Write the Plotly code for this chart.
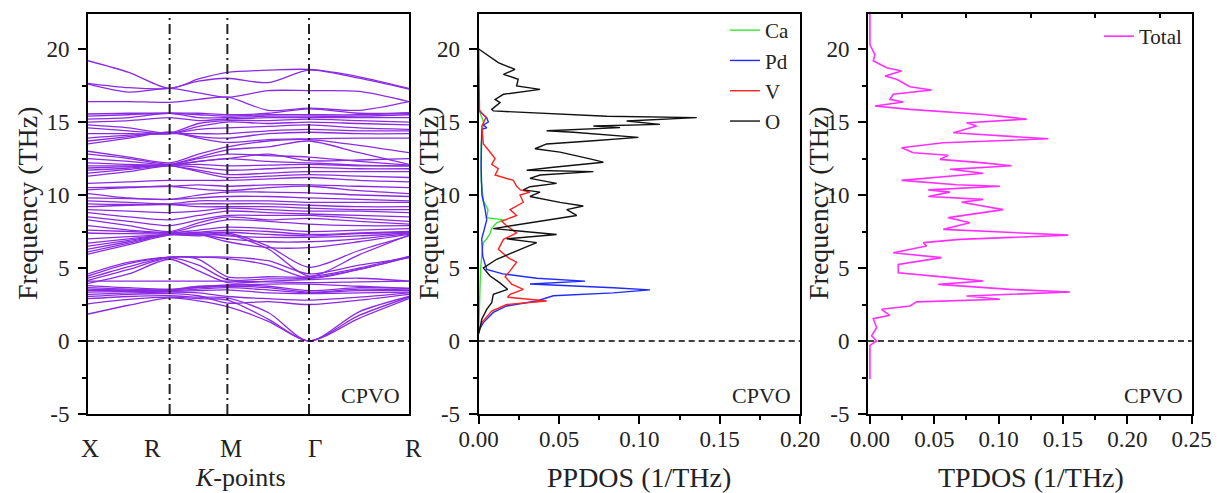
import plotly.graph_objects as go

FONT = "Liberation Serif"
BAND_COLOR = "#8a2be2"

# ---------------- Band structure data ----------------
kpath_labels = ["X", "R", "M", "Γ", "R"]
kpath_pos = [0.0, 0.7071, 1.2071, 1.9142, 2.7802]
# sampling points along the path: X, mid, R, mid, M, mid, Γ, mid, R
band_k = [0.0, 0.3536, 0.7071, 0.9571, 1.2071, 1.5607, 1.9142, 2.3472, 2.7802]

bands_low = [
    [1.85, 2.45, 2.95, 2.75, 2.35, 1.35, 0.0, 1.55, 2.90],
    [2.55, 2.85, 3.00, 2.90, 2.80, 1.50, 0.0, 1.75, 3.00],
    [2.90, 3.05, 3.10, 3.00, 2.95, 1.95, 0.0, 2.00, 3.05],
    [3.05, 3.20, 3.25, 3.10, 2.60, 2.70, 2.50, 2.80, 3.20],
    [3.20, 3.30, 3.35, 3.30, 3.05, 2.90, 2.80, 3.00, 3.30],
    [3.35, 3.40, 3.40, 3.45, 3.50, 3.30, 3.25, 3.30, 3.35],
    [3.45, 3.45, 3.45, 3.55, 3.65, 3.50, 3.30, 3.45, 3.45],
    [3.55, 3.50, 3.50, 3.65, 3.75, 3.65, 3.35, 3.55, 3.50],
    [3.65, 3.55, 3.50, 3.70, 3.85, 3.75, 3.45, 3.65, 3.60],
    [3.80, 3.65, 3.55, 3.75, 3.80, 3.90, 3.90, 3.75, 3.60],
    [4.10, 4.10, 4.10, 4.10, 4.10, 4.05, 4.00, 4.05, 4.10],
    [3.95, 4.60, 5.60, 4.80, 4.00, 4.10, 4.20, 4.30, 4.10],
    [4.15, 4.90, 5.70, 5.20, 4.20, 4.25, 4.30, 4.90, 5.75],
    [4.30, 5.10, 5.75, 5.60, 4.40, 4.40, 4.40, 5.00, 5.80],
    [4.45, 5.30, 5.75, 5.75, 5.65, 5.20, 4.30, 4.90, 5.75],
    [4.60, 5.40, 5.75, 5.75, 5.75, 5.50, 4.60, 5.20, 5.70],
]
bands_mid = [
    [5.95, 6.60, 7.25, 7.20, 7.30, 6.30, 4.45, 5.90, 7.25],
    [6.10, 6.70, 7.30, 7.25, 7.40, 6.50, 5.05, 6.20, 7.20],
    [6.30, 6.80, 7.30, 7.30, 6.80, 6.40, 6.40, 6.80, 7.30],
    [6.50, 6.90, 7.30, 7.30, 7.00, 6.80, 6.80, 7.00, 7.35],
    [6.70, 7.00, 7.30, 7.35, 7.20, 7.10, 7.10, 7.20, 7.40],
    [7.00, 7.15, 7.30, 7.40, 7.45, 7.30, 7.20, 7.35, 7.45],
    [7.40, 7.35, 7.35, 7.45, 7.60, 7.50, 7.30, 7.40, 7.50],
    [7.60, 7.50, 7.40, 7.60, 7.80, 7.70, 7.50, 7.60, 7.70],
    [7.90, 7.60, 7.45, 7.90, 8.30, 8.20, 8.00, 7.90, 7.90],
    [8.30, 7.90, 7.50, 8.10, 8.50, 8.30, 8.40, 8.20, 8.00],
    [8.50, 8.20, 7.90, 8.30, 8.60, 8.60, 8.60, 8.40, 8.20],
    [8.80, 8.50, 8.30, 8.60, 8.90, 8.80, 8.70, 8.60, 8.50],
    [9.00, 8.90, 8.80, 8.90, 9.10, 9.00, 8.90, 8.90, 8.80],
    [9.20, 9.30, 9.35, 9.20, 9.20, 9.20, 9.10, 9.00, 9.00],
    [9.40, 9.35, 9.35, 9.40, 9.40, 9.40, 9.30, 9.20, 9.20],
    [9.60, 9.50, 9.40, 9.60, 9.60, 9.60, 9.50, 9.50, 9.50],
    [9.80, 9.75, 9.70, 9.80, 9.90, 9.90, 9.80, 9.70, 9.60],
    [10.10, 9.80, 9.70, 10.00, 10.20, 10.20, 10.15, 10.00, 9.90],
    [10.35, 10.50, 10.60, 10.40, 10.30, 10.50, 10.60, 10.30, 10.10],
    [10.50, 10.55, 10.60, 10.70, 10.60, 10.70, 10.70, 10.60, 10.50],
]
bands_high = [
    [10.80, 10.90, 11.00, 11.00, 11.00, 11.10, 11.20, 11.00, 10.90],
    [11.30, 11.60, 12.00, 11.60, 11.20, 11.30, 11.40, 11.30, 11.20],
    [11.50, 11.75, 12.00, 11.70, 11.40, 11.50, 11.60, 11.60, 11.60],
    [11.70, 11.85, 12.05, 11.90, 11.70, 11.80, 11.90, 11.80, 11.80],
    [11.85, 11.95, 12.05, 12.10, 12.00, 12.05, 12.10, 12.00, 12.00],
    [12.00, 12.00, 12.05, 12.30, 12.50, 12.30, 12.20, 12.05, 12.00],
    [12.20, 12.10, 12.10, 12.50, 12.80, 12.70, 12.60, 12.30, 12.05],
    [12.50, 12.30, 12.10, 12.60, 13.10, 13.30, 13.70, 12.90, 12.10],
    [12.80, 12.50, 12.10, 12.30, 12.50, 12.80, 12.35, 12.40, 12.50],
    [13.00, 12.60, 12.20, 12.80, 13.30, 13.70, 13.80, 13.40, 12.90],
    [13.50, 13.90, 14.30, 13.90, 13.60, 13.80, 13.85, 13.90, 13.90],
    [13.70, 14.00, 14.30, 14.00, 13.90, 14.20, 14.30, 14.20, 14.20],
    [13.90, 14.10, 14.20, 14.20, 14.20, 14.40, 14.50, 14.40, 14.40],
    [14.20, 14.20, 14.20, 14.50, 14.60, 14.70, 14.80, 14.60, 14.50],
    [14.60, 14.40, 14.20, 14.70, 15.00, 14.90, 15.00, 14.90, 14.80],
    [14.80, 14.60, 14.25, 14.90, 15.10, 15.10, 15.20, 15.10, 15.00],
    [15.00, 15.10, 15.30, 15.10, 15.20, 15.30, 15.30, 15.30, 15.30],
    [15.20, 15.30, 15.60, 15.30, 15.30, 15.40, 15.40, 15.40, 15.50],
    [15.40, 15.50, 15.60, 15.50, 15.40, 15.50, 15.50, 15.50, 15.60],
    [15.55, 15.60, 15.60, 15.60, 15.50, 15.60, 15.90, 15.60, 15.65],
    [16.40, 16.40, 16.35, 16.55, 16.70, 15.80, 15.95, 15.80, 16.40],
    [17.60, 17.05, 17.30, 17.00, 16.70, 17.15, 17.15, 17.10, 16.40],
    [17.65, 17.35, 17.30, 17.80, 18.00, 17.70, 18.55, 18.00, 17.25],
    [19.20, 18.40, 17.30, 17.95, 18.40, 18.55, 18.60, 18.10, 17.30],
]

# ---------------- Partial phonon DOS (freq THz, DOS 1/THz) ----------------
ca_freq = [0.7, 3.0, 5.0, 6.5, 6.74, 7.0, 7.35, 7.7, 8.1, 8.3, 8.45, 9.0, 9.6, 11.0, 13.5, 15.0, 15.7, 15.9]
ca_dos = [0.0, 0.0008, 0.0012, 0.0025, 0.003, 0.005, 0.007, 0.008, 0.0112, 0.0155, 0.005, 0.0058, 0.003, 0.0015, 0.0015, 0.003, 0.001, 0.0]

pd_freq = [0.7, 1.26, 1.96, 2.4, 2.74, 3.1, 3.3, 3.5, 3.65, 3.9, 4.1, 4.3, 4.6, 4.9, 5.8, 7.0, 8.3, 9.0, 10.0, 12.0,
           14.5, 14.6, 14.8, 15.0, 15.3, 15.7, 15.9]
pd_dos = [0.0, 0.0029, 0.0091, 0.0174, 0.0361, 0.0465, 0.0838, 0.1066, 0.0838, 0.0319, 0.0662, 0.0361, 0.015, 0.005,
          0.0025, 0.0019, 0.005, 0.004, 0.002, 0.0015, 0.0019, 0.005, 0.003, 0.006, 0.005, 0.001, 0.0]

v_freq = [0.7, 1.26, 2.05, 2.5, 2.74, 3.0, 3.2, 3.54, 3.9, 4.4, 4.8, 5.4, 5.7, 6.28, 6.96, 7.4, 7.9, 8.2, 8.6, 9.0,
          9.5, 10.0, 10.2, 10.35, 10.6, 11.0, 11.37, 11.8, 12.1, 12.5, 13.0, 13.5, 14.7, 15.3, 15.8, 20.0]
v_dos = [0.0, 0.0019, 0.0081, 0.0174, 0.0423, 0.018, 0.0195, 0.0278, 0.0205, 0.0164, 0.0195, 0.0236, 0.0185, 0.0122,
         0.0154, 0.0236, 0.0174, 0.0143, 0.0236, 0.0195, 0.0278, 0.0257, 0.0319, 0.026, 0.0236, 0.0216, 0.0102, 0.0122,
         0.0081, 0.0102, 0.0067, 0.0029, 0.0019, 0.0045, 0.0005, 0.0]

o_freq = [0.5, 0.7, 1.5, 2.17, 2.63, 3.2, 3.54, 4.0, 4.45, 5.0, 5.6, 6.28, 6.74, 7.0, 7.3, 7.7, 8.0, 8.2, 8.6, 9.0,
          9.25, 9.5, 9.9, 10.2, 10.35, 10.57, 10.8, 11.14, 11.37, 11.6, 11.7, 11.9, 12.25, 12.48, 12.7, 12.94, 13.17,
          13.5, 13.72, 13.95, 14.3, 14.4, 14.62, 14.73, 14.84, 15.07, 15.3, 15.4, 15.76, 15.87, 16.33, 16.55, 16.9,
          17.24, 17.47, 17.93, 18.27, 18.6, 19.07, 19.64, 20.0]
o_dos = [0.0, 0.0005, 0.0019, 0.005, 0.0081, 0.0091, 0.018, 0.013, 0.0071, 0.0029, 0.0112, 0.0257, 0.0361, 0.0174,
         0.0485, 0.0091, 0.0257, 0.0382, 0.061, 0.0548, 0.0651, 0.0506, 0.0319, 0.0382, 0.0278, 0.0319, 0.0485,
         0.0319, 0.0382, 0.0714, 0.0299, 0.0465, 0.0776, 0.0693, 0.061, 0.0506, 0.035, 0.0423, 0.0714, 0.0994,
         0.0589, 0.0423, 0.088, 0.0714, 0.1128, 0.0921, 0.1357, 0.0797, 0.0091, 0.0081, 0.0133, 0.0102, 0.0154,
         0.0382, 0.0236, 0.0246, 0.0154, 0.0226, 0.0122, 0.005, 0.0]

# ---------------- Total phonon DOS ----------------
tot_freq = [-2.6, -0.3, 0.0, 0.35, 0.92, 1.53, 1.76, 2.17, 2.4, 2.68, 2.86, 3.08, 3.36, 3.54, 3.88, 4.11, 4.34, 4.68,
            5.25, 5.71, 6.05, 6.51, 6.74, 6.96, 7.25, 7.65, 8.1, 8.45, 9.0, 9.5, 9.7, 9.9, 10.2, 10.35, 10.6, 10.7,
            11.0, 11.3, 11.49, 11.76, 12.0, 12.2, 12.44, 12.72, 12.9, 13.24, 13.58, 13.85, 14.27, 14.73, 14.95,
            15.2, 15.52, 15.87, 16.1, 16.37, 16.55, 16.9, 17.19, 17.42, 17.93, 18.15, 18.5, 18.72, 19.2, 19.6,
            20.0, 20.3, 22.4]
tot_dos = [0.0, 0.0, 0.0052, 0.0013, 0.0052, 0.0026, 0.0155, 0.009, 0.0311, 0.0363, 0.101, 0.0751, 0.1554, 0.1088,
           0.0531, 0.0881, 0.0622, 0.022, 0.022, 0.0557, 0.0181, 0.044, 0.0415, 0.0699, 0.1541, 0.057, 0.0777,
           0.0609, 0.1036, 0.0712, 0.0881, 0.0453, 0.0622, 0.0453, 0.101, 0.0674, 0.0246, 0.0648, 0.0881, 0.0622,
           0.1101, 0.0881, 0.0544, 0.0609, 0.0337, 0.0246, 0.057, 0.1386, 0.0648, 0.0829, 0.0751, 0.1218, 0.0881,
           0.0311, 0.0039, 0.0259, 0.0155, 0.0181, 0.0479, 0.0311, 0.0207, 0.0117, 0.0246, 0.013, 0.0026, 0.0039,
           0.0013, 0.0, 0.0]

freq_ticks = [-5, 0, 5, 10, 15, 20]
freq_minor = [-2.5, 2.5, 7.5, 12.5, 17.5]
pdos_ticks = [0.0, 0.05, 0.10, 0.15, 0.20]
tdos_ticks = [0.0, 0.05, 0.10, 0.15, 0.20, 0.25]
pdos_minor = [0.025, 0.075, 0.125, 0.175]
tdos_minor = [0.025, 0.075, 0.125, 0.175, 0.225]

fig = go.Figure()

# bands (one trace, gaps between bands)
bx, by = [], []
for group in (bands_low, bands_mid, bands_high):
    for b in group:
        bx += band_k + [None]
        by += b + [None]
fig.add_trace(go.Scatter(x=bx, y=by, mode="lines", xaxis="x", yaxis="y", showlegend=False,
                         line=dict(color=BAND_COLOR, width=1.3, shape="spline", smoothing=0.8),
                         hoverinfo="skip"))

pdos_series = [("Ca", ca_freq, ca_dos, "#33e533"), ("Pd", pd_freq, pd_dos, "#1f2bff"),
               ("V", v_freq, v_dos, "#ff2020"), ("O", o_freq, o_dos, "#111111")]
for name, f, d, c in pdos_series:
    fig.add_trace(go.Scatter(x=d, y=f, mode="lines", name=name, xaxis="x2", yaxis="y2",
                             line=dict(color=c, width=1.4), legend="legend"))

fig.add_trace(go.Scatter(x=tot_dos, y=tot_freq, mode="lines", name="Total", xaxis="x3", yaxis="y3",
                         line=dict(color="#ff30ff", width=1.6), legend="legend2"))
# carrier for top inner ticks of right panel
fig.add_trace(go.Scatter(x=[None], y=[None], xaxis="x4", yaxis="y3", showlegend=False, hoverinfo="skip"))

tickfont = dict(family=FONT, size=23, color="#222")
ydom = [1 - 414 / 493, 1 - 14 / 493]


def yaxis(anchor):
    return dict(domain=ydom, anchor=anchor, range=[-5, 22.4], tickvals=freq_ticks,
                ticktext=[str(v) for v in freq_ticks], ticks="outside", ticklen=8, tickwidth=2,
                tickcolor="black", minor=dict(tickvals=freq_minor, ticks="outside", ticklen=4,
                                              tickwidth=2, tickcolor="black", showgrid=False),
                showline=True, linewidth=2, linecolor="black", mirror=True, showgrid=False,
                zeroline=False, tickfont=tickfont, ticklabelstandoff=4, automargin=False)


def xaxis(dom, anchor, rng, tv, minor_tv):
    return dict(domain=dom, anchor=anchor, range=rng, tickvals=tv, ticktext=["%.2f" % v for v in tv],
                ticks="outside", ticklen=8, tickwidth=2, tickcolor="black",
                minor=dict(tickvals=minor_tv, ticks="outside", ticklen=4, tickwidth=2,
                           tickcolor="black", showgrid=False),
                showline=True, linewidth=2, linecolor="black", mirror=True, showgrid=False,
                zeroline=False, tickfont=tickfont, ticklabelstandoff=-5, automargin=False)


fig.update_layout(
    template="none",
    width=1220, height=493, margin=dict(l=0, r=0, t=0, b=0, pad=0),
    paper_bgcolor="white", plot_bgcolor="white",
    font=dict(family=FONT, color="#222"),
    xaxis=dict(domain=[88 / 1220, 409 / 1220], anchor="y", range=[kpath_pos[0], kpath_pos[-1]],
               showticklabels=False, ticks="", showline=True, linewidth=2, linecolor="black",
               mirror=True, showgrid=False, zeroline=False, automargin=False),
    yaxis=yaxis("x"),
    xaxis2=xaxis([478.7 / 1220, 800 / 1220], "y2", [0, 0.2], pdos_ticks, pdos_minor),
    yaxis2=yaxis("x2"),
    xaxis3=xaxis([868 / 1220, 1191.7 / 1220], "y3", [-0.0015, 0.25], tdos_ticks, tdos_minor),
    yaxis3=yaxis("x3"),
    xaxis4=dict(overlaying="x3", anchor="y3", side="top", range=[-0.0015, 0.25], tickvals=tdos_minor,
                ticks="inside", ticklen=4, tickwidth=2, tickcolor="black", showticklabels=False,
                showline=False, showgrid=False, zeroline=False, automargin=False),
    legend=dict(x=795 / 1220, xanchor="right", y=1 - 10 / 493, yanchor="top",
                font=dict(family=FONT, size=21, color="#222"), bgcolor="rgba(0,0,0,0)",
                tracegroupgap=0, itemwidth=30),
    legend2=dict(x=1188 / 1220, xanchor="right", y=1 - 16 / 493, yanchor="top",
                 font=dict(family=FONT, size=21, color="#222"), bgcolor="rgba(0,0,0,0)", itemwidth=30),
    showlegend=True,
)

shapes = []
# zero-frequency dashed lines
for xr, yr in (("x domain", "y"), ("x2 domain", "y2"), ("x3 domain", "y3")):
    shapes.append(dict(type="line", xref=xr, yref=yr, x0=0, x1=1, y0=0, y1=0,
                       line=dict(color="black", width=1.6, dash="6px,4px")))
# high-symmetry vertical lines
for kp in kpath_pos[1:-1]:
    shapes.append(dict(type="line", xref="x", yref="y domain", x0=kp, x1=kp, y0=0, y1=1,
                       line=dict(color="#222", width=2, dash="10px,4px,2px,4px")))
fig.update_layout(shapes=shapes)

ann = []
kshift = [2, -17, 4, 6, 4]
for lab, kp, sh in zip(kpath_labels, kpath_pos, kshift):
    ann.append(dict(text=lab, x=kp, xref="x", y=1 - 448 / 493, yref="paper", xshift=sh,
                    showarrow=False, xanchor="center", yanchor="middle",
                    font=dict(family=FONT, size=25, color="#222")))
ann.append(dict(text="<i>K</i>-points", x=240 / 1220, y=1 - 477 / 493, xref="paper", yref="paper",
                xanchor="center", yanchor="middle",
                showarrow=False, font=dict(family=FONT, size=26, color="#222")))
ann.append(dict(text="PPDOS (1/THz)", x=639.4 / 1220, y=1 - 477 / 493, xref="paper", yref="paper",
                xanchor="center", yanchor="middle",
                showarrow=False, font=dict(family=FONT, size=28, color="#222")))
ann.append(dict(text="TPDOS (1/THz)", x=1031 / 1220, y=1 - 477 / 493, xref="paper", yref="paper",
                xanchor="center", yanchor="middle",
                showarrow=False, font=dict(family=FONT, size=28, color="#222")))
for xp in (27, 428, 818):
    ann.append(dict(text="Frequency (THz)", x=xp / 1220, y=1 - 203 / 493, xref="paper", yref="paper",
                    xanchor="center", yanchor="middle",
                    textangle=-90, showarrow=False, font=dict(family=FONT, size=28, color="#222")))
for xr in ("x domain", "x2 domain", "x3 domain"):
    ann.append(dict(text="CPVO", x=1, xref=xr, xshift=-7, xanchor="right", y=1 - 395 / 493,
                    yref="paper", yanchor="middle", showarrow=False,
                    font=dict(family=FONT, size=22, color="#222")))
fig.update_layout(annotations=ann)

fig.write_html("out.html")
